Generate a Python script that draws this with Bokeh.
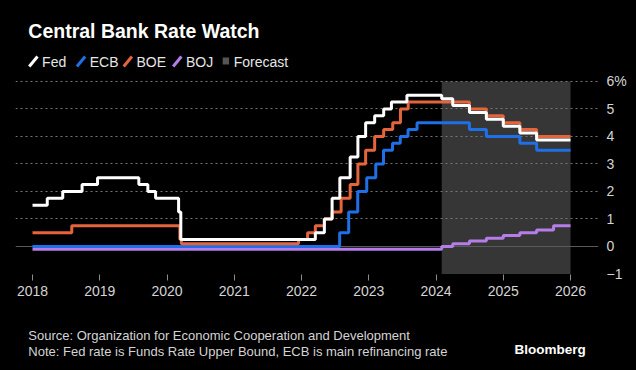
import pandas as pd
from bokeh.plotting import figure
from bokeh.layouts import column
from bokeh.models import Range1d, FixedTicker, Grid
from bokeh.core.properties import value
from bokeh.embed import file_html
from bokeh.resources import INLINE

# ---------------- data (step change dates and levels, %) ----------------
fed_dates = ["2018-01-01", "2018-03-22", "2018-06-14", "2018-09-27", "2018-12-20",
             "2019-08-01", "2019-09-19", "2019-10-31", "2020-03-04", "2020-03-16",
             "2022-03-17", "2022-05-05", "2022-06-16", "2022-07-28", "2022-09-22",
             "2022-11-03", "2022-12-15", "2023-02-02", "2023-03-23", "2023-05-04",
             "2023-07-27", "2024-02-01", "2024-04-01", "2024-07-01", "2024-10-01",
             "2025-01-01", "2025-04-01", "2025-07-01", "2026-01-01"]
fed_rates = [1.5, 1.75, 2.0, 2.25, 2.5,
             2.25, 2.0, 1.75, 1.25, 0.25,
             0.5, 1.0, 1.75, 2.5, 3.25,
             4.0, 4.5, 4.75, 5.0, 5.25,
             5.5, 5.375, 5.125, 4.875, 4.625,
             4.375, 4.125, 3.875, 3.875]

ecb_dates = ["2018-01-01", "2022-07-27", "2022-09-14", "2022-11-02", "2022-12-21",
             "2023-02-08", "2023-03-22", "2023-05-10", "2023-06-21", "2023-08-02",
             "2023-09-20", "2024-07-01", "2024-10-01", "2025-04-01", "2025-07-01",
             "2026-01-01"]
ecb_rates = [0.0, 0.5, 1.25, 2.0, 2.5,
             3.0, 3.5, 3.75, 4.0, 4.25,
             4.5, 4.25, 4.0, 3.75, 3.5,
             3.5]

boe_dates = ["2018-01-01", "2018-08-02", "2020-03-11", "2020-03-19", "2021-12-16",
             "2022-02-03", "2022-03-17", "2022-05-05", "2022-06-16", "2022-08-04",
             "2022-09-22", "2022-11-03", "2022-12-15", "2023-02-02", "2023-03-23",
             "2023-05-11", "2023-06-22", "2023-08-03", "2024-07-01", "2024-10-01",
             "2025-01-01", "2025-04-01", "2025-07-01", "2026-01-01"]
boe_rates = [0.5, 0.75, 0.25, 0.1, 0.25,
             0.5, 0.75, 1.0, 1.25, 1.75,
             2.25, 3.0, 3.5, 4.0, 4.25,
             4.5, 5.0, 5.25, 5.0, 4.75,
             4.5, 4.25, 4.0, 4.0]

boj_dates = ["2018-01-01", "2024-02-01", "2024-04-01", "2024-07-01", "2024-10-01",
             "2025-01-01", "2025-04-01", "2025-07-01", "2025-10-01", "2026-01-01"]
boj_rates = [-0.1, 0.0, 0.1, 0.2, 0.3, 0.4, 0.5, 0.6, 0.75, 0.75]

forecast_start = "2024-02-01"
forecast_end = "2026-01-01"

year_ticks = [2018, 2019, 2020, 2021, 2022, 2023, 2024, 2025, 2026]
rate_ticks = [-1, 0, 1, 2, 3, 4, 5, 6]

series_names = ["Fed", "ECB", "BOE", "BOJ"]
series_colors = {"Fed": "#ffffff", "ECB": "#1f6fe6", "BOE": "#e5643c", "BOJ": "#b57de8"}

title_text = "Central Bank Rate Watch"
forecast_label = "Forecast"
source_text = "Source: Organization for Economic Cooperation and Development"
note_text = "Note: Fed rate is Funds Rate Upper Bound, ECB is main refinancing rate"
brand_text = "Bloomberg"


def yr(s):
    t = pd.Timestamp(s)
    a = pd.Timestamp(year=t.year, month=1, day=1)
    b = pd.Timestamp(year=t.year + 1, month=1, day=1)
    return t.year + (t - a) / (b - a)


FONT = "Liberation Sans"
W = 636
HEAD_H, MAIN_H, FOOT_H = 70, 248, 52
BG = "#000000"


def blank(h):
    f = figure(width=W, height=h, output_backend="svg", toolbar_location=None,
               x_range=Range1d(0, W), y_range=Range1d(h, 0),
               x_axis_type=None, y_axis_type=None, min_border=0,
               background_fill_color=BG, border_fill_color=BG,
               outline_line_color=None, styles={"background-color": BG})
    f.xgrid.visible = False
    f.ygrid.visible = False
    return f


# ---------------- header: title + legend ----------------
head = blank(HEAD_H)
head.text(x=[14], y=[30], text=[title_text], text_font=value(FONT), text_font_style="bold",
          text_font_size="19.5px", text_color="#ffffff", text_baseline="middle")
legend_x = {"Fed": 15, "ECB": 67, "BOE": 118, "BOJ": 172}
for name in series_names:
    x0 = legend_x[name]
    head.segment(x0=[x0], y0=[66], x1=[x0 + 9], y1=[56], line_color=series_colors[name], line_width=3)
    head.text(x=[x0 + 14], y=[61], text=[name], text_font=value(FONT), text_font_size="14px",
              text_color="#e6e6e6", text_baseline="middle")
head.quad(left=[226], right=[233], top=[57], bottom=[64], fill_color="#555555", line_color=None)
head.text(x=[238], y=[61], text=[forecast_label], text_font=value(FONT), text_font_size="14px",
          text_color="#e6e6e6", text_baseline="middle")

# ---------------- main chart ----------------
p = figure(width=W, height=MAIN_H, output_backend="svg", toolbar_location=None,
           x_range=Range1d(2017.747, 2026.416), y_range=Range1d(-1.02, 6.18),
           y_axis_location="right",
           background_fill_color=BG, border_fill_color=BG,
           outline_line_color=None, styles={"background-color": BG},
           min_border_left=15, min_border_right=38, min_border_top=6, min_border_bottom=44)

p.quad(left=[yr(forecast_start)], right=[yr(forecast_end)], bottom=[rate_ticks[0]], top=[rate_ticks[-1]],
       fill_color="#363636", line_color=None, level="image")

p.xaxis.ticker = FixedTicker(ticks=year_ticks)
p.xaxis.major_label_overrides = {t: str(t) for t in year_ticks}
p.xaxis.axis_line_color = None
p.xaxis.major_tick_line_color = "#8c8c8c"
p.xaxis.major_tick_out = 6
p.xaxis.major_tick_in = 0
p.xaxis.minor_tick_line_color = None
p.xaxis.major_label_text_color = "#d4d4d4"
p.xaxis.major_label_text_font = FONT
p.xaxis.major_label_text_font_size = "14px"
p.xaxis.major_label_standoff = 5

p.yaxis.ticker = FixedTicker(ticks=rate_ticks)
p.yaxis.major_label_overrides = {6: "6%"}
p.yaxis.axis_line_color = None
p.yaxis.major_tick_line_color = None
p.yaxis.major_tick_out = 0
p.yaxis.major_tick_in = 0
p.yaxis.minor_tick_line_color = None
p.yaxis.major_label_text_color = "#d4d4d4"
p.yaxis.major_label_text_font = FONT
p.yaxis.major_label_text_font_size = "14px"
p.yaxis.major_label_standoff = 8

p.xgrid.visible = False
p.ygrid.ticker = FixedTicker(ticks=[t for t in rate_ticks if t > 0])
p.ygrid.grid_line_color = "#777777"
p.ygrid.grid_line_dash = "2 3"
p.ygrid.grid_line_width = 1
p.add_layout(Grid(dimension=1, ticker=FixedTicker(ticks=[0]), grid_line_color="#5a5a5a", grid_line_width=1.2))

data = {
    "BOJ": (boj_dates, boj_rates),
    "ECB": (ecb_dates, ecb_rates),
    "BOE": (boe_dates, boe_rates),
    "Fed": (fed_dates, fed_rates),
}
for name in ["BOJ", "ECB", "BOE", "Fed"]:
    d, r = data[name]
    p.step([yr(s) for s in d], r, mode="after", line_width=3, line_color=series_colors[name])

# ---------------- footer ----------------
foot = blank(FOOT_H)
foot.text(x=[14], y=[17], text=[source_text], text_font=value(FONT), text_font_size="13px",
          text_color="#d4d4d4", text_baseline="middle")
foot.text(x=[14], y=[33], text=[note_text], text_font=value(FONT), text_font_size="13px",
          text_color="#d4d4d4", text_baseline="middle")
foot.text(x=[622], y=[31], text=[brand_text], text_font=value(FONT), text_font_style="bold",
          text_font_size="13.5px", text_color="#ffffff", text_baseline="middle", text_align="right")

layout = column(head, p, foot, spacing=0, styles={"background-color": BG})
open("out.html", "w").write(file_html(layout, INLINE))
